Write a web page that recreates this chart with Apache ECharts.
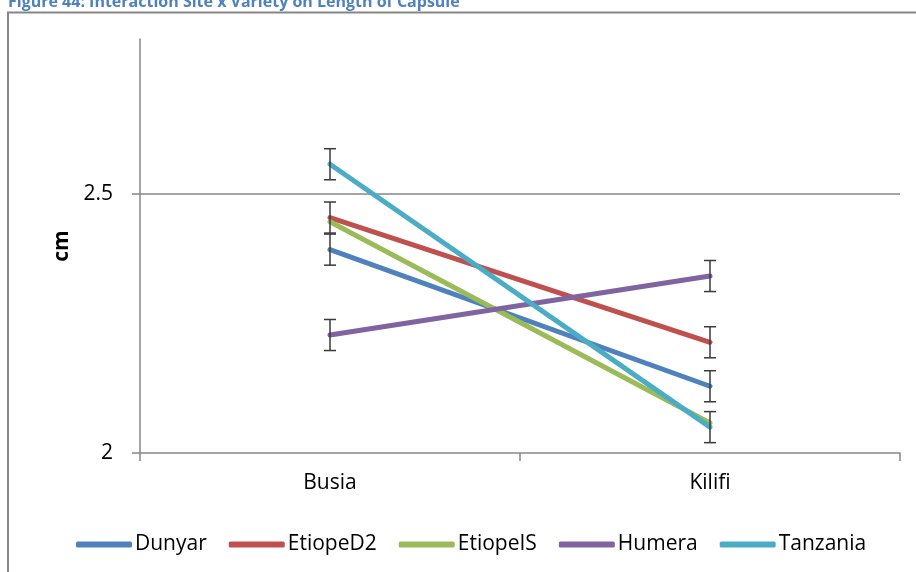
<!DOCTYPE html>
<html>
<head>
<meta charset="utf-8">
<script src="https://cdn.jsdelivr.net/npm/echarts@6/dist/echarts.min.js"></script>
<style>
html,body{margin:0;padding:0;background:#fff;}
#c{width:916px;height:572px;}
</style>
</head>
<body>
<div id="c"></div>
<script>
const titleText = 'Figure 44: Interaction Site x Variety on Length of Capsule';
const categories = ['Busia', 'Kilifi'];
const seriesNames = ['Dunyar', 'EtiopeD2', 'EtiopeIS', 'Humera', 'Tanzania'];
const dunyar   = [2.393, 2.129];
const etiopeD2 = [2.455, 2.214];
const etiopeIS = [2.447, 2.058];
const humera   = [2.228, 2.342];
const tanzania = [2.558, 2.050];
// half-widths of the error bars (null = no bar drawn)
const errDunyar   = [0.03, 0.03];
const errEtiopeD2 = [0.03, 0.03];
const errEtiopeIS = [null, null];
const errHumera   = [0.03, 0.03];
const errTanzania = [0.03, 0.03];
const yTicks = [2, 2.5];
const colors = ['#4F81BD', '#C0504D', '#9BBB59', '#8064A2', '#4BACC6'];

const values = [dunyar, etiopeD2, etiopeIS, humera, tanzania];
const errors = [errDunyar, errEtiopeD2, errEtiopeIS, errHumera, errTanzania];

const FONT = '"Open Sans", sans-serif';
const chart = echarts.init(document.getElementById('c'));

const lineSeries = seriesNames.map((n, i) => ({
  name: n,
  type: 'line',
  data: values[i],
  showSymbol: false,
  symbol: 'none',
  lineStyle: { width: 5, color: colors[i], cap: 'round', join: 'round' },
  itemStyle: { color: colors[i] },
  z: 2 + i,
  animation: false
}));

const errData = [];
values.forEach((vals, si) => {
  vals.forEach((v, ci) => {
    const e = errors[si][ci];
    if (e != null) errData.push([ci, v - e, v + e]);
  });
});

const errSeries = {
  type: 'custom',
  name: 'errors',
  data: errData,
  z: 10,
  silent: true,
  animation: false,
  renderItem: function (params, api) {
    const x = api.value(0);
    const lo = api.coord([x, api.value(1)]);
    const hi = api.coord([x, api.value(2)]);
    const hw = 6;
    const st = { stroke: '#3a3a3a', lineWidth: 1.5 };
    return {
      type: 'group',
      children: [
        { type: 'line', shape: { x1: lo[0], y1: lo[1], x2: hi[0], y2: hi[1] }, style: st },
        { type: 'line', shape: { x1: lo[0] - hw, y1: lo[1], x2: lo[0] + hw, y2: lo[1] }, style: st },
        { type: 'line', shape: { x1: hi[0] - hw, y1: hi[1], x2: hi[0] + hw, y2: hi[1] }, style: st }
      ]
    };
  }
};

chart.setOption({
  animation: false,
  backgroundColor: '#fff',
  graphic: [
    { type: 'rect', shape: { x: 8, y: 12.5, width: 1000, height: 1000 },
      style: { fill: 'none', stroke: '#868686', lineWidth: 2 }, z: 0 },
    { type: 'text', x: 8, y: 10, z: 5,
      style: { text: titleText, fill: '#4F81BD', font: 'bold 16px ' + FONT, verticalAlign: 'bottom' } }
  ],
  legend: {
    data: seriesNames,
    left: 71,
    top: 529,
    itemWidth: 56,
    itemHeight: 6,
    itemGap: 22,
    icon: 'roundRect',
    textStyle: { fontFamily: FONT, fontSize: 21, color: '#000', padding: [0, 0, 0, -2] }
  },
  grid: { left: 140, right: 16, top: 39, bottom: 119, containLabel: false },
  xAxis: {
    type: 'category',
    data: categories,
    boundaryGap: true,
    axisLine: { lineStyle: { color: '#868686', width: 1.5 } },
    axisTick: { show: true, length: 8, lineStyle: { color: '#868686', width: 1.5 } },
    axisLabel: { fontFamily: FONT, fontSize: 21, color: '#000', margin: 20 },
    splitLine: { show: false }
  },
  yAxis: {
    type: 'value',
    min: 2,
    max: 2.8,
    interval: 0.5,
    name: 'cm',
    nameLocation: 'middle',
    nameGap: 66,
    nameRotate: 90,
    nameTextStyle: { fontFamily: FONT, fontSize: 21, fontWeight: 'bold', color: '#000' },
    axisLine: { show: true, lineStyle: { color: '#868686', width: 1.5 } },
    axisTick: { show: true, length: 8, customValues: yTicks, lineStyle: { color: '#868686', width: 1.5 } },
    axisLabel: { fontFamily: FONT, fontSize: 21, color: '#000', margin: 27, customValues: yTicks },
    splitLine: { show: true, lineStyle: { color: ['transparent', '#868686', 'transparent'], width: 1.5 } }
  },
  series: lineSeries.concat([errSeries])
});
</script>
</body>
</html>
